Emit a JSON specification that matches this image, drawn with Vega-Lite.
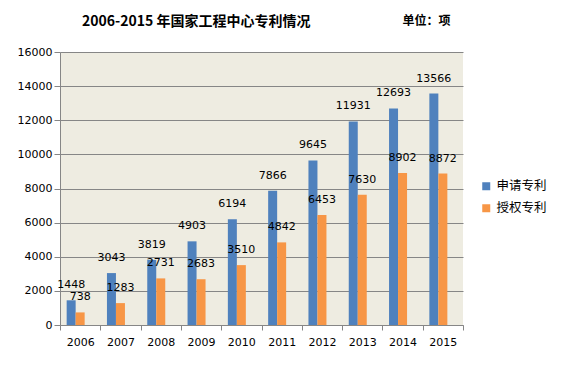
{
  "$schema": "https://vega.github.io/schema/vega-lite/v6.json",
  "width": 403,
  "height": 273,
  "autosize": {"type": "none"},
  "padding": {"left": 60, "top": 52, "right": 111, "bottom": 45},
  "background": "white",
  "title": {
    "text": "2006-2015 年国家工程中心专利情况",
    "anchor": "start",
    "frame": "group",
    "dx": 22,
    "offset": -15,
    "font": "Noto Sans CJK SC",
    "fontSize": 14,
    "fontWeight": "bold",
    "color": "black"
  },
  "data": {
    "values": [
      {"year": "2006", "series": "申请专利", "value": 1448},
      {"year": "2006", "series": "授权专利", "value": 738},
      {"year": "2007", "series": "申请专利", "value": 3043},
      {"year": "2007", "series": "授权专利", "value": 1283},
      {"year": "2008", "series": "申请专利", "value": 3819},
      {"year": "2008", "series": "授权专利", "value": 2731},
      {"year": "2009", "series": "申请专利", "value": 4903},
      {"year": "2009", "series": "授权专利", "value": 2683},
      {"year": "2010", "series": "申请专利", "value": 6194},
      {"year": "2010", "series": "授权专利", "value": 3510},
      {"year": "2011", "series": "申请专利", "value": 7866},
      {"year": "2011", "series": "授权专利", "value": 4842},
      {"year": "2012", "series": "申请专利", "value": 9645},
      {"year": "2012", "series": "授权专利", "value": 6453},
      {"year": "2013", "series": "申请专利", "value": 11931},
      {"year": "2013", "series": "授权专利", "value": 7630},
      {"year": "2014", "series": "申请专利", "value": 12693},
      {"year": "2014", "series": "授权专利", "value": 8902},
      {"year": "2015", "series": "申请专利", "value": 13566},
      {"year": "2015", "series": "授权专利", "value": 8872}
    ]
  },
  "encoding": {
    "x": {
      "field": "year",
      "type": "nominal",
      "scale": {"paddingInner": 0, "paddingOuter": 0},
      "axis": {
        "title": null,
        "labelAngle": 0,
        "tickBand": "extent",
        "domainColor": "#868686",
        "tickColor": "#868686",
        "tickSize": 5,
        "labelFont": "DejaVu Sans",
        "labelFontSize": 11,
        "labelColor": "black",
        "labelPadding": 6,
        "grid": false
      }
    },
    "xOffset": {
      "field": "series",
      "type": "nominal",
      "scale": {"domain": ["申请专利", "授权专利", "空"], "paddingInner": 0, "paddingOuter": 0.74}
    },
    "y": {
      "field": "value",
      "type": "quantitative",
      "scale": {"domain": [0, 16000], "nice": false},
      "axis": {
        "values": [0, 2000, 4000, 6000, 8000, 10000, 12000, 14000, 16000],
        "format": "d",
        "grid": true,
        "gridColor": "#868686",
        "gridOpacity": 1,
        "domainColor": "#868686",
        "tickColor": "#868686",
        "tickSize": 6,
        "labelPadding": 2,
        "labelFont": "DejaVu Sans",
        "labelFontSize": 11,
        "labelColor": "black",
        "title": "单位：项",
        "titleAngle": 0,
        "titleX": 366,
        "titleY": -32,
        "titleAlign": "center",
        "titleBaseline": "middle",
        "titleFont": "Noto Sans CJK SC",
        "titleFontSize": 12,
        "titleFontWeight": "bold",
        "titleColor": "black"
      }
    }
  },
  "layer": [
    {
      "mark": {"type": "bar"},
      "encoding": {
        "color": {
          "field": "series",
          "type": "nominal",
          "scale": {"domain": ["申请专利", "授权专利"], "range": ["#4F81BD", "#F79646"]},
          "legend": {
            "title": null,
            "orient": "none",
            "legendX": 420,
            "legendY": 128,
            "symbolType": "square",
            "symbolSize": 64,
            "symbolStrokeWidth": 0,
            "labelFont": "Noto Sans CJK SC",
            "labelFontSize": 12.5,
            "labelColor": "black",
            "labelOffset": 4,
            "rowPadding": 9,
            "padding": 0
          }
        }
      }
    },
    {
      "mark": {"type": "text", "dy": -15, "font": "DejaVu Sans", "fontSize": 11, "color": "black"},
      "encoding": {"text": {"field": "value", "type": "quantitative", "format": "d"}}
    }
  ],
  "config": {
    "view": {"fill": "#EEECE1", "stroke": null}
  }
}
